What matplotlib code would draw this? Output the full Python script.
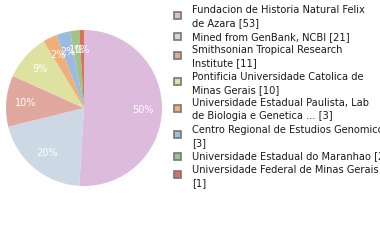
import matplotlib
matplotlib.use("Agg")
import matplotlib.pyplot as plt
from matplotlib.patches import Rectangle

# institutions and specimen counts
labels = [
    "Fundacion de Historia Natural Felix\nde Azara [53]",
    "Mined from GenBank, NCBI [21]",
    "Smithsonian Tropical Research\nInstitute [11]",
    "Pontificia Universidade Catolica de\nMinas Gerais [10]",
    "Universidade Estadual Paulista, Lab\nde Biologia e Genetica ... [3]",
    "Centro Regional de Estudios Genomicos\n[3]",
    "Universidade Estadual do Maranhao [2]",
    "Universidade Federal de Minas Gerais\n[1]",
]
counts = [53, 21, 11, 10, 3, 3, 2, 1]
colors = ["#ddbbdd", "#ccd8e4", "#e0a89e", "#dee2a0",
          "#f0ae78", "#9dbbe0", "#9ec489", "#dd7155"]

W, H = 380, 240
fig = plt.figure(figsize=(W / 100, H / 100), dpi=100)

# pie centred at (84, 108) px, radius 78 px
cx, cy, r = 84, 108, 78
ax = fig.add_axes([(cx - r) / W, (H - cy - r) / H, 2 * r / W, 2 * r / H])
wedges, texts, autotexts = ax.pie(
    counts, colors=colors, startangle=90, counterclock=False,
    autopct=lambda p: "{}%".format(int(p)), pctdistance=0.75,
    textprops={"color": "white", "fontsize": 7})
ax.set_aspect("equal")
ax.set_xlim(-1, 1)
ax.set_ylim(-1, 1)

# legend drawn by hand, one text line every ~13.3 px
line_h = 13.3
y0 = 10
line = 0
for label, color in zip(labels, colors):
    n = label.count("\n") + 1
    first = y0 + line * line_h
    last = first + (n - 1) * line_h
    sq_y = (first + last) / 2 - (1.5 if n > 1 else 0)
    fig.patches.append(Rectangle((174 / W, 1 - (sq_y + 3.5) / H), 7 / W, 7 / H,
                                 transform=fig.transFigure, facecolor=color,
                                 edgecolor="#777777", linewidth=1.2))
    for k, txt in enumerate(label.split("\n")):
        fig.text(192 / W, 1 - (first + k * line_h) / H, txt,
                 ha="left", va="center", fontsize=7.1, color="#1a1a1a")
    line += n

fig.savefig("out.png", dpi=100)
